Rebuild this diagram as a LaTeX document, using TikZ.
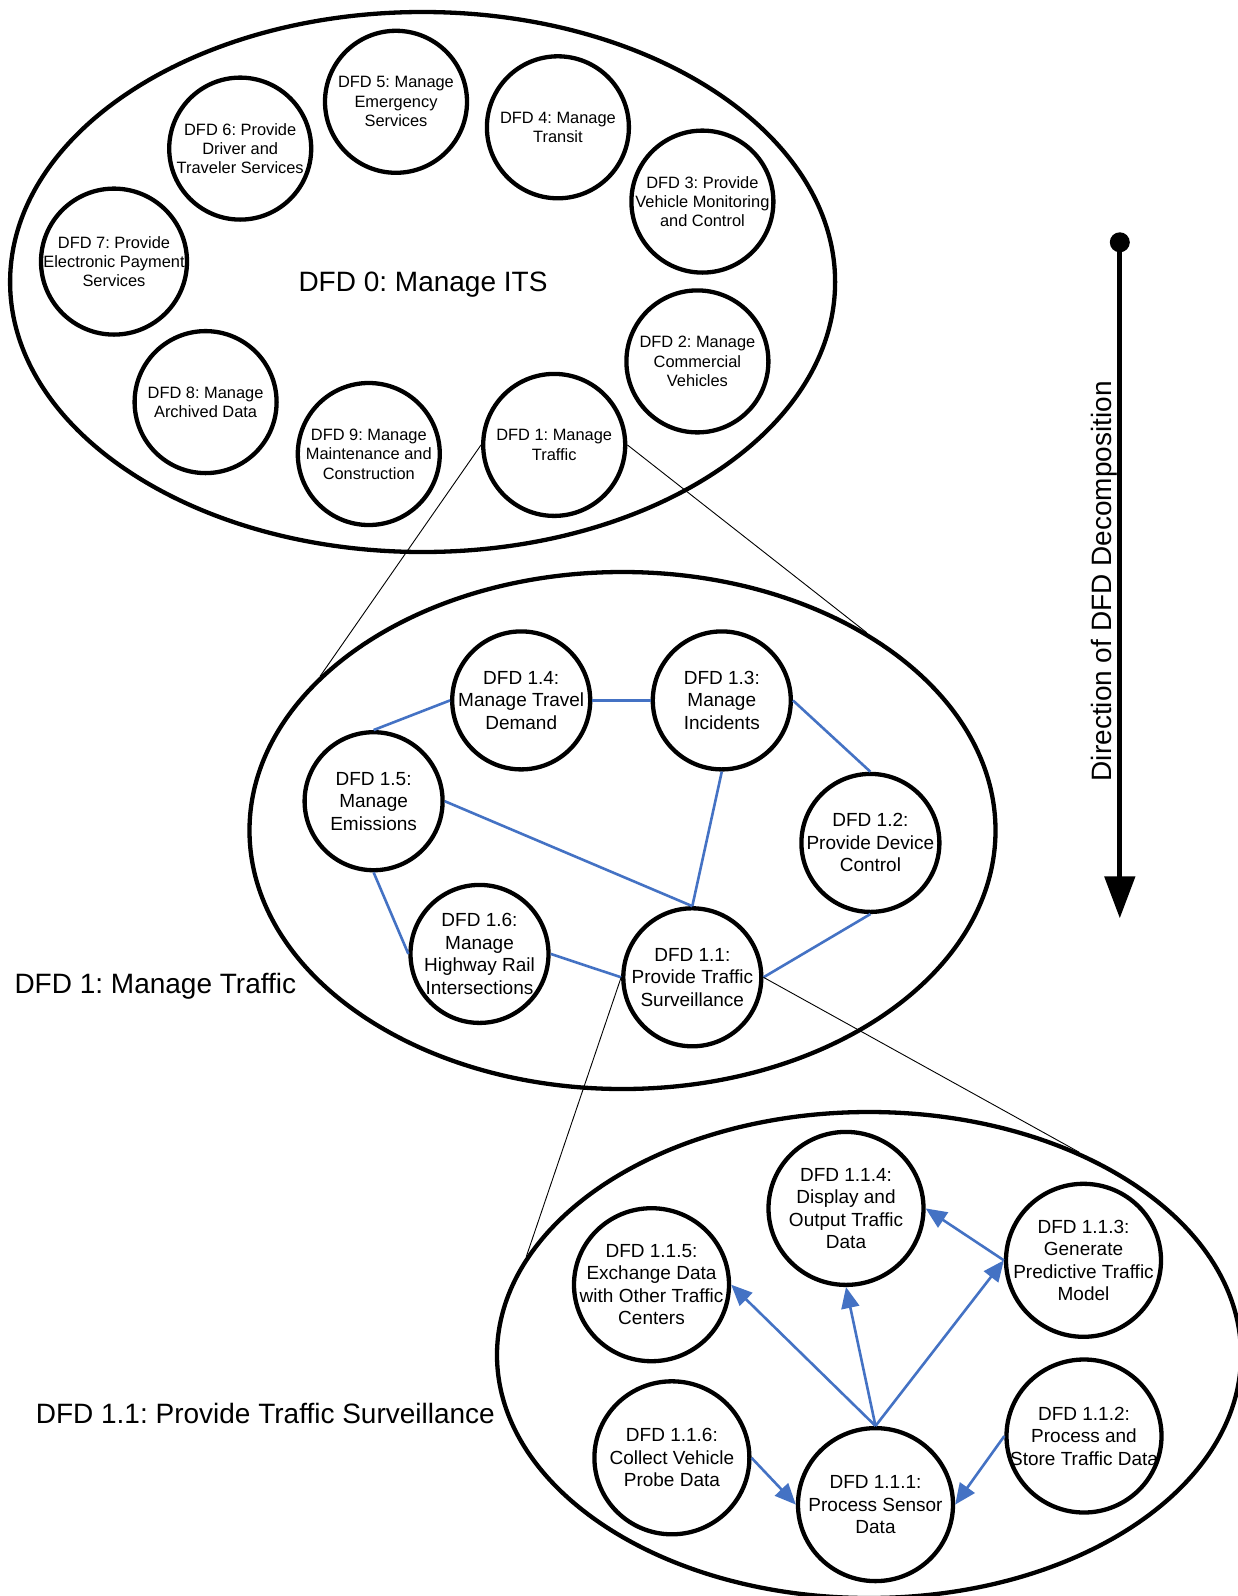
\documentclass[tikz,border=0pt]{standalone}
\usepackage{fontspec}
\setmainfont{Liberation Sans}
\usetikzlibrary{shapes.geometric,arrows.meta}
\frenchspacing

\definecolor{flowblue}{RGB}{68,114,196}

\tikzset{
  outerring/.style={draw, line width=4.3pt, ellipse, inner sep=0pt},
  proc0/.style={draw, line width=4.3pt, ellipse, inner sep=0pt,
                minimum width=142pt, minimum height=142pt},
  proc1/.style={draw, line width=4.3pt, ellipse, inner sep=0pt,
                minimum width=138pt, minimum height=138pt},
  proc2/.style={draw, line width=4.3pt, ellipse, inner sep=0pt,
                minimum width=155pt, minimum height=153pt},
  txtsmall/.style={align=center, inner sep=0pt,
                   font=\fontsize{16.4}{19.4}\selectfont},
  txtmid/.style={align=center, inner sep=0pt,
                 font=\fontsize{19}{22.5}\selectfont},
  biglabel/.style={inner sep=0pt, font=\fontsize{28}{33}\selectfont},
  link/.style={draw=flowblue, line width=2.6pt},
  flow/.style={draw=flowblue, line width=2.6pt,
               -{Triangle[length=21pt,width=18pt]}},
  zoomline/.style={draw=black, line width=0.9pt},
}

\begin{document}
\begin{tikzpicture}[x=1pt, y=-1pt]
\useasboundingbox (0,0) rectangle (1238,1596);
\clip (0,0) rectangle (1238,1596);
\fill[white] (0,0) rectangle (1238,1596);

% ---------- level 0 ----------
\node[outerring, minimum width=825pt, minimum height=540pt] (L0) at (422.6,282) {};
\node[biglabel] (L0title) at (423,284.5) {DFD 0: Manage ITS};

\node[proc0] (d5) at (396,101.8) {};
\node[txtsmall] (t5) at (d5) {DFD 5: Manage\\Emergency\\Services};
\node[proc0] (d4) at (557.9,127.3) {};
\node[txtsmall] (t4) at (d4) {DFD 4: Manage\\Transit};
\node[proc0] (d3) at (702.4,201.6) {};
\node[txtsmall] (t3) at (d3) {DFD 3: Provide\\Vehicle Monitoring\\and Control};
\node[proc0] (d2) at (697.4,361.4) {};
\node[txtsmall] (t2) at (d2) {DFD 2: Manage\\Commercial\\Vehicles};
\node[proc0] (d1) at (554.2,444.9) {};
\node[txtsmall] (t1) at (d1) {DFD 1: Manage\\Traffic};
\node[proc0] (d9) at (368.8,454) {};
\node[txtsmall] (t9) at (d9) {DFD 9: Manage\\Maintenance and\\Construction};
\node[proc0] (d8) at (205.6,402.1) {};
\node[txtsmall] (t8) at (d8) {DFD 8: Manage\\Archived Data};
\node[proc0, minimum width=146pt, minimum height=146pt] (d7) at (114,261.6) {};
\node[txtsmall] (t7) at (d7) {DFD 7: Provide\\Electronic Payment\\Services};
\node[proc0] (d6) at (240.2,148.6) {};
\node[txtsmall] (t6) at (d6) {DFD 6: Provide\\Driver and\\Traveler Services};

% ---------- level 1 ----------
\node[outerring, minimum width=746pt, minimum height=517pt] (L1) at (622.5,830.5) {};
\node[biglabel, anchor=west] (L1title) at (14.3,986.5) {DFD 1: Manage Traffic};

\node[proc1] (m14) at (521.2,700.4) {};
\node[txtmid] (u14) at (m14) {DFD 1.4:\\Manage Travel\\Demand};
\node[proc1] (m13) at (721.8,700.4) {};
\node[txtmid] (u13) at (m13) {DFD 1.3:\\Manage\\Incidents};
\node[proc1] (m15) at (373.6,801.2) {};
\node[txtmid] (u15) at (m15) {DFD 1.5:\\Manage\\Emissions};
\node[proc1] (m12) at (870.4,842.9) {};
\node[txtmid] (u12) at (m12) {DFD 1.2:\\Provide Device\\Control};
\node[proc1] (m16) at (479.5,953.9) {};
\node[txtmid] (u16) at (m16) {DFD 1.6:\\Manage\\Highway Rail\\Intersections};
\node[proc1] (m11) at (692.3,977.3) {};
\node[txtmid] (u11) at (m11) {DFD 1.1:\\Provide Traffic\\Surveillance};

\draw[link] (m15.north) -- (m14.west);
\draw[link] (m14.east) -- (m13.west);
\draw[link] (m13.east) -- (m12.north);
\draw[link] (m13.south) -- (m11.north);
\draw[link] (m15.east) -- (m11.north);
\draw[link] (m15.south) -- (m16.west);
\draw[link] (m16.east) -- (m11.west);
\draw[link] (m12.south) -- (m11.east);

% ---------- level 2 ----------
\node[outerring, minimum width=744pt, minimum height=486pt] (L2) at (869,1355) {};
\node[biglabel, anchor=west] (L2title) at (35.6,1413) {DFD 1.1: Provide Traffic Surveillance};

\node[proc2] (s114) at (846,1208.4) {};
\node[txtmid] (v114) at (s114) {DFD 1.1.4:\\Display and\\Output Traffic\\Data};
\node[proc2] (s113) at (1083.5,1260.3) {};
\node[txtmid] (v113) at (s113) {DFD 1.1.3:\\Generate\\Predictive Traffic\\Model};
\node[proc2] (s115) at (651.5,1284.7) {};
\node[txtmid] (v115) at (s115) {DFD 1.1.5:\\Exchange Data\\with Other Traffic\\Centers};
\node[proc2] (s116) at (671.9,1457.8) {};
\node[txtmid] (v116) at (s116) {DFD 1.1.6:\\Collect Vehicle\\Probe Data};
\node[proc2] (s111) at (875.5,1504.6) {};
\node[txtmid] (v111) at (s111) {DFD 1.1.1:\\Process Sensor\\Data};
\node[proc2] (s112) at (1084,1436) {};
\node[txtmid] (v112) at (s112) {DFD 1.1.2:\\Process and\\Store Traffic Data};

\draw[flow] (s111.north) -- (s115.east);
\draw[flow] (s111.north) -- (s114.south);
\draw[flow] (s111.north) -- (s113.west);
\draw[flow] (s113.west) -- (s114.east);
\draw[flow] (s116.east) -- (s111.west);
\draw[flow] (s112.west) -- (s111.east);

% ---------- zoom-in guide lines ----------
\draw[zoomline] (d1.west) -- (L1.153.4);
\draw[zoomline] (d1.east) -- (L1.39.4);
\draw[zoomline] (m11.west) -- (L2.164.1);
\draw[zoomline] (m11.east) -- (L2.44.2);

% ---------- decomposition direction ----------
\node[circle, fill=black, minimum size=20pt, inner sep=0pt] (dirstart) at (1119.8,242.3) {};
\coordinate (dirend) at (1119.8,918.3);
\draw[line width=5pt, -{Triangle[length=42pt,width=30pt]}] (dirstart.center) -- (dirend);
\node[biglabel, rotate=90] (dirtxt) at (1104,581.3) {Direction of DFD Decomposition};
\end{tikzpicture}
\end{document}
